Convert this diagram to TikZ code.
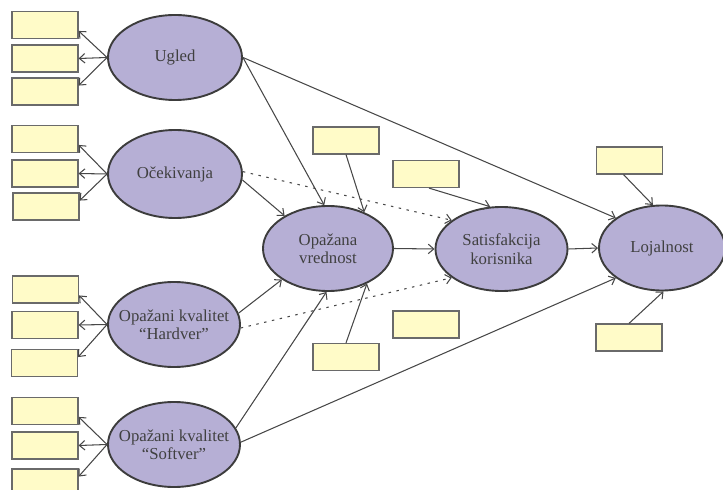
\documentclass[tikz,border=0pt]{standalone}
\usepackage{fontspec}
\setmainfont{Liberation Serif}
\newfontfamily\diagserif{Liberation Serif}
\usetikzlibrary{shapes.geometric,arrows.meta}
\definecolor{lav}{HTML}{B6AFD5}
\definecolor{edgec}{HTML}{3C3C3C}
\definecolor{boxfill}{HTML}{FFFBC8}
\definecolor{boxline}{HTML}{6A6A6A}
\definecolor{arrc}{HTML}{474747}
\definecolor{txtc}{HTML}{404040}
\begin{document}
\begin{tikzpicture}[x=1bp,y=-1bp,
  lat/.style={ellipse, draw=edgec, line width=1.9bp, fill=lav, inner sep=0pt},
  lattext/.style={align=center, text=txtc, inner sep=0pt,
    font=\diagserif\fontsize{16.8}{18.5}\selectfont},
  ind/.style={rectangle, draw=boxline, line width=1.2bp, fill=boxfill,
    minimum width=66bp, minimum height=27bp, inner sep=0pt},
  arr/.style={draw=arrc, line width=1.05bp, -{Straight Barb[length=5.5bp,width=9.5bp]}},
  dotarr/.style={arr, dash pattern=on 2.5bp off 5.5bp}]
\useasboundingbox (0,0) rectangle (723,490);

% indicator boxes left
\node[ind] (u1) at (45,25) {};
\node[ind] (u2) at (45,58.5) {};
\node[ind] (u3) at (45,91.5) {};
\node[ind] (o1) at (45,139) {};
\node[ind] (o2) at (45,173.5) {};
\node[ind] (o3) at (46,206.5) {};
\node[ind] (h1) at (45.5,289.5) {};
\node[ind] (h2) at (45,325) {};
\node[ind] (h3) at (44.5,363) {};
\node[ind] (s1) at (45,411) {};
\node[ind] (s2) at (45,445.5) {};
\node[ind] (s3) at (45,482.5) {};

% other boxes
\node[ind] (b1) at (346,140.5) {};
\node[ind] (b2) at (426,174) {};
\node[ind] (b5) at (426,324.5) {};
\node[ind] (b4) at (346,357) {};
\node[ind] (b6) at (629.5,160.5) {};
\node[ind] (b7) at (629,337.5) {};

% latent variables
\node[lat, minimum width=134bp, minimum height=85bp] (ugled) at (175,57.5) {};
\node[lat, minimum width=134bp, minimum height=88bp] (oce) at (175,174) {};
\node[lat, minimum width=132bp, minimum height=85bp] (hard) at (174,324.5) {};
\node[lat, minimum width=132bp, minimum height=85bp] (soft) at (174,444.5) {};
\node[lat, minimum width=130bp, minimum height=85bp] (ov) at (328,248.5) {};
\node[lat, minimum width=132bp, minimum height=84bp] (sat) at (501.5,249) {};
\node[lat, minimum width=126bp, minimum height=85bp] (loj) at (662,248) {};

\node[lattext] (tugled) at (ugled.center) {Ugled};
\node[lattext] (toce) at (oce.center) {Očekivanja};
\node[lattext] (thard) at (hard.center) {Opažani kvalitet\\“Hardver”};
\node[lattext] (tsoft) at (soft.center) {Opažani kvalitet\\“Softver”};
\node[lattext] (tov) at (ov.center) {Opažana\\vrednost};
\node[lattext] (tsat) at (sat.center) {Satisfakcija\\korisnika};
\node[lattext] (tloj) at (loj.center) {Lojalnost};

% measurement arrows
\foreach \a/\b in {ugled/u1, oce/o1, hard/h1, soft/s1} \draw[arr] (\a.west) -- (\b.-10);
\foreach \a/\b in {ugled/u2, oce/o2, hard/h2, soft/s2} \draw[arr] (\a.west) -- (\b.east);
\foreach \a/\b in {ugled/u3, oce/o3, hard/h3, soft/s3} \draw[arr] (\a.west) -- (\b.10);

% structural arrows
\draw[arr] (ugled.east) -- (ov.95);
\draw[arr] (ugled.east) -- (loj.147);
\draw[arr] (oce.-5) -- (ov.143);
\draw[dotarr] (oce.2) -- (sat.150);
\draw[arr] (b1.south) -- (ov.45);
\draw[arr] ([xshift=3bp]b2.south) -- (sat.105);
\draw[arr] (ov.east) -- (sat.west);
\draw[arr] (sat.east) -- (loj.west);
\draw[arr] (hard.10) -- (ov.-146);
\draw[dotarr] (hard.-3) -- (sat.-150);
\draw[arr] (soft.15) -- (ov.-92);
\draw[arr] (soft.2) -- (loj.-147);
\draw[arr] (b4.north) -- (ov.-42);
\draw[arr] ([xshift=-6bp]b6.south) -- (loj.102);
\draw[arr] (b7.north) -- (loj.-88);
\end{tikzpicture}
\end{document}
